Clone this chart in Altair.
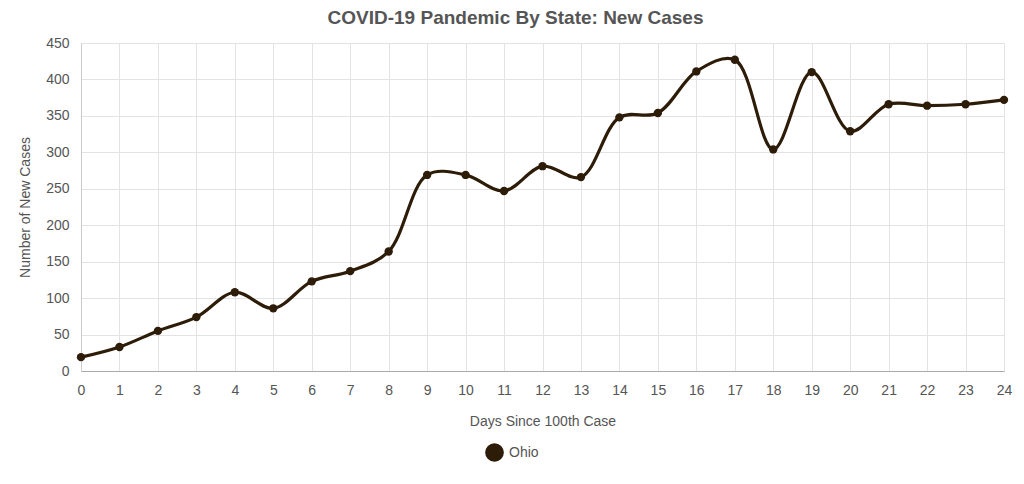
import altair as alt
import pandas as pd

days = list(range(25))
new_cases = [19, 33, 55, 74, 108, 86, 123, 137, 164, 269, 269, 247, 281, 266,
             348, 354, 411, 427, 304, 410, 329, 366, 364, 366, 372]
state = ["Ohio"] * 25

df = pd.DataFrame({"Day": days, "Cases": new_cases, "State": state})

LINE_COL = "#2d1c08"
FONT = "Liberation Sans"
TXT = "#555555"

x = alt.X("Day:Q", title="Days Since 100th Case",
          scale=alt.Scale(domain=[0, 24], nice=False),
          axis=alt.Axis(values=days, format="d", labelFontSize=14, labelColor=TXT,
                        labelPadding=12, labelFlush=False, labelBound=False,
                        titleFontSize=14, titleColor=TXT,
                        titleFontWeight="normal", titlePadding=17,
                        domainColor="#aaaaaa", ticks=False, gridColor="#e3e3e3"))
y = alt.Y("Cases:Q", title="Number of New Cases",
          scale=alt.Scale(domain=[0, 450], nice=False),
          axis=alt.Axis(values=list(range(0, 451, 50)), labelFontSize=14, labelColor=TXT,
                        labelPadding=12, labelFlush=False, labelBound=False,
                        titleFontSize=14, titleColor=TXT,
                        titleFontWeight="normal", titlePadding=13,
                        domainColor="#cccccc", ticks=False, gridColor="#e3e3e3"))

line = alt.Chart(df).mark_line(interpolate="catmull-rom", strokeWidth=3.2,
                               color=LINE_COL).encode(x=x, y=y)
points = alt.Chart(df).mark_point(filled=True, size=70, opacity=1, shape="circle").encode(
    x=x, y=y,
    color=alt.Color("State:N", scale=alt.Scale(domain=["Ohio"], range=[LINE_COL]),
                    legend=alt.Legend(title=None, orient="none", legendX=403, legendY=399,
                                      symbolType="circle", symbolSize=350, labelOffset=4,
                                      labelFontSize=14, labelColor=TXT, labelFont=FONT,
                                      symbolOpacity=1)))

chart = alt.layer(line, points).properties(
    width=923, height=328,
    autosize=alt.AutoSizeParams(type="none"),
    padding={"left": 81, "top": 43, "right": 20, "bottom": 113},
    title=alt.TitleParams("COVID-19 Pandemic By State: New Cases", fontSize=19,
                          fontWeight="bold", color=TXT, font=FONT, anchor="middle",
                          dx=-27, offset=8),
).configure(font=FONT).configure_view(stroke=None).configure_axis(labelFont=FONT, titleFont=FONT)

chart.save("out.html", embed_options={"renderer": "svg", "actions": False})
